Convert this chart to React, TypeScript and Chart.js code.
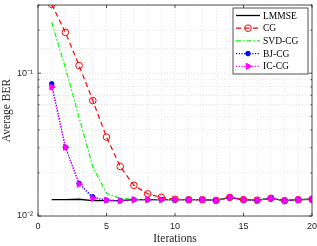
import React, { useEffect, useRef } from "react";
import { Chart, registerables } from "chart.js";

Chart.register(...registerables);

const iterations = [1, 2, 3, 4, 5, 6, 7, 8, 9, 10, 11, 12, 13, 14, 15, 16, 17, 18, 19, 20];
const lmmse = [0.0130, 0.0130, 0.0131, 0.0128, 0.0128, 0.0128, 0.0130, 0.0130, 0.0130, 0.0130, 0.0130, 0.0130, 0.01285, 0.0135, 0.0130, 0.0129, 0.0133, 0.0128, 0.0130, 0.0131];
const cg = [0.303, 0.193, 0.113, 0.0643, 0.0357, 0.0222, 0.0164, 0.0143, 0.0135, 0.0131, 0.0130, 0.0130, 0.01285, 0.0135, 0.0130, 0.0129, 0.0133, 0.0128, 0.0130, 0.0131];
const svdcg = [0.227, 0.109, 0.049, 0.022, 0.0144, 0.0133, 0.0131, 0.0130, 0.0130, 0.0130, 0.0130, 0.0130, 0.01285, 0.0135, 0.0130, 0.0129, 0.0133, 0.0128, 0.0130, 0.0131];
const bjcg = [0.0842, 0.0303, 0.0169, 0.0136, 0.0129, 0.0128, 0.0130, 0.0130, 0.0130, 0.0130, 0.0130, 0.0130, 0.01285, 0.0135, 0.0130, 0.0129, 0.0133, 0.0128, 0.0130, 0.0131];
const iccg = [0.0800, 0.0303, 0.0167, 0.0133, 0.0129, 0.0128, 0.0130, 0.0130, 0.0130, 0.0130, 0.0130, 0.0130, 0.01285, 0.0135, 0.0130, 0.0129, 0.0133, 0.0128, 0.0130, 0.0131];
const seriesLabels = ["LMMSE", "CG", "SVD-CG", "BJ-CG", "IC-CG"];
const xTickLabels = [0, 5, 10, 15, 20];
const yTickLabels: Record<string, string> = { "-1": "10\u207B\u00B9", "-2": "10\u207B\u00B2" };

const pts = (arr: number[]) => arr.map((y, i) => ({ x: iterations[i], y }));

const frameAndLegend = {
  id: "frameAndLegend",
  afterDatasetsDraw(chart: any) {
    const { ctx, chartArea: a, scales } = chart;
    ctx.save();
    ctx.strokeStyle = "#262626";
    ctx.lineWidth = 0.8;
    ctx.setLineDash([]);
    ctx.strokeRect(a.left, a.top, a.right - a.left, a.bottom - a.top);
    xTickLabels.forEach((v) => {
      const px = scales.x.getPixelForValue(v);
      ctx.beginPath();
      ctx.moveTo(px, a.bottom);
      ctx.lineTo(px, a.bottom - 3);
      ctx.moveTo(px, a.top);
      ctx.lineTo(px, a.top + 3);
      ctx.stroke();
    });
    [0.01, 0.02, 0.03, 0.04, 0.05, 0.06, 0.07, 0.08, 0.09, 0.1, 0.2, 0.3].forEach((v) => {
      const py = scales.y.getPixelForValue(v);
      const len = v === 0.01 || v === 0.1 ? 3 : 1.5;
      ctx.beginPath();
      ctx.moveTo(a.left, py);
      ctx.lineTo(a.left + len, py);
      ctx.moveTo(a.right, py);
      ctx.lineTo(a.right - len, py);
      ctx.stroke();
    });
    const bx = 233, by = 8, bw = 75, bh = 66;
    ctx.fillStyle = "#ffffff";
    ctx.fillRect(bx, by, bw, bh);
    ctx.strokeStyle = "#262626";
    ctx.lineWidth = 0.8;
    ctx.strokeRect(bx, by, bw, bh);
    ctx.font = "9.5px 'Liberation Serif', serif";
    ctx.textBaseline = "middle";
    chart.data.datasets.forEach((ds: any, i: number) => {
      const y = by + 7.5 + i * 12.7;
      ctx.strokeStyle = ds.borderColor;
      ctx.lineWidth = ds.borderWidth;
      ctx.setLineDash(ds.borderDash || []);
      ctx.beginPath();
      ctx.moveTo(bx + 3, y);
      ctx.lineTo(bx + 27, y);
      ctx.stroke();
      ctx.setLineDash([]);
      if (ds.pointRadius > 0) {
        const cx = bx + 15;
        const r = ds.pointRadius;
        ctx.fillStyle = ds.pointBackgroundColor;
        ctx.strokeStyle = ds.pointBorderColor;
        ctx.lineWidth = ds.pointBorderWidth;
        ctx.beginPath();
        if (ds.pointStyle === "circle") {
          ctx.arc(cx, y, r, 0, Math.PI * 2);
        } else {
          ctx.moveTo(cx + r, y);
          ctx.lineTo(cx - r * 0.5, y - r * 0.87);
          ctx.lineTo(cx - r * 0.5, y + r * 0.87);
          ctx.closePath();
        }
        if (ds.pointBackgroundColor !== "rgba(0,0,0,0)") ctx.fill();
        ctx.stroke();
      }
      ctx.fillStyle = "#000000";
      ctx.fillText(ds.label, bx + 30, y + 0.5);
    });
    ctx.restore();
  },
};

export default function App() {
  const ref = useRef<HTMLCanvasElement>(null);
  useEffect(() => {
    document.body.style.margin = "0";
    const canvas = ref.current!;
    const chart = new Chart(canvas, {
      type: "line",
      data: {
        datasets: [
          {
            label: seriesLabels[0],
            data: pts(lmmse),
            order: 5,
            borderColor: "#000000",
            backgroundColor: "#000000",
            borderWidth: 1.3,
            pointRadius: 0,
          },
          {
            label: seriesLabels[1],
            data: pts(cg),
            order: 4,
            borderColor: "#ff0000",
            backgroundColor: "#ff0000",
            borderWidth: 1.2,
            borderDash: [5, 3.5],
            pointStyle: "circle",
            pointRadius: 3.3,
            pointBorderWidth: 1,
            pointBorderColor: "#ff0000",
            pointBackgroundColor: "rgba(0,0,0,0)",
          },
          {
            label: seriesLabels[2],
            data: pts(svdcg),
            order: 3,
            borderColor: "#00ff00",
            backgroundColor: "#00ff00",
            borderWidth: 1.2,
            borderDash: [5, 2, 1.5, 2],
            pointRadius: 0,
          },
          {
            label: seriesLabels[3],
            data: pts(bjcg),
            order: 2,
            borderColor: "#0000ff",
            backgroundColor: "#0000ff",
            borderWidth: 1.2,
            borderDash: [1.2, 1.5],
            pointStyle: "circle",
            pointRadius: 2.3,
            pointBorderWidth: 1,
            pointBorderColor: "#0000ff",
            pointBackgroundColor: "#0000ff",
          },
          {
            label: seriesLabels[4],
            data: pts(iccg),
            order: 1,
            borderColor: "#ff00ff",
            backgroundColor: "#ff00ff",
            borderWidth: 1.2,
            borderDash: [1.2, 1.5],
            pointStyle: "triangle",
            pointRotation: 90,
            pointRadius: 3.6,
            pointBorderWidth: 1,
            pointBorderColor: "#ff00ff",
            pointBackgroundColor: "#ff00ff",
          },
        ],
      },
      options: {
        responsive: false,
        animation: false,
        layout: { padding: { top: 3, right: 5, left: 0, bottom: 0 } },
        plugins: { legend: { display: false }, tooltip: { enabled: false } },
        scales: {
          x: {
            type: "linear",
            min: 0,
            max: 20,
            afterFit: (s: any) => { s.height = 30; s.paddingLeft = 0; s.paddingRight = 0; },
            ticks: {
              stepSize: 1,
              autoSkip: false,
              maxRotation: 0,
              padding: 5,
              color: "#262626",
              font: { family: "'Liberation Sans', Arial, sans-serif", size: 9 },
              callback: (v: any) => (xTickLabels.includes(Number(v)) ? String(v) : ""),
            },
            grid: { color: "#dedede", lineWidth: 0.8, drawTicks: false },
            border: { display: false, dash: [1, 2] },
            title: {
              display: true,
              text: "Iterations",
              color: "#262626",
              padding: 0,
              font: { family: "'Liberation Serif', serif", size: 11.5 },
            },
          },
          y: {
            type: "logarithmic",
            min: 0.01,
            max: 0.3,
            afterFit: (s: any) => { s.width = 38; s.paddingTop = 0; s.paddingBottom = 0; },
            ticks: {
              autoSkip: false,
              padding: 5,
              color: "#262626",
              font: { family: "'Liberation Sans', Arial, sans-serif", size: 9 },
              callback: (v: any) => {
                const l = Math.log10(Number(v));
                const r = Math.round(l);
                return Math.abs(l - r) < 1e-6 ? yTickLabels[String(r)] || "" : "";
              },
            },
            grid: { color: "#dedede", lineWidth: 0.8, drawTicks: false },
            border: { display: false, dash: [1, 2] },
            title: {
              display: true,
              text: "Average BER",
              color: "#262626",
              padding: 0,
              font: { family: "'Liberation Serif', serif", size: 11.5 },
            },
          },
        },
      },
      plugins: [frameAndLegend],
    } as any);
    return () => chart.destroy();
  }, []);
  return <canvas ref={ref} width={317} height={246} style={{ display: "block" }} />;
}
